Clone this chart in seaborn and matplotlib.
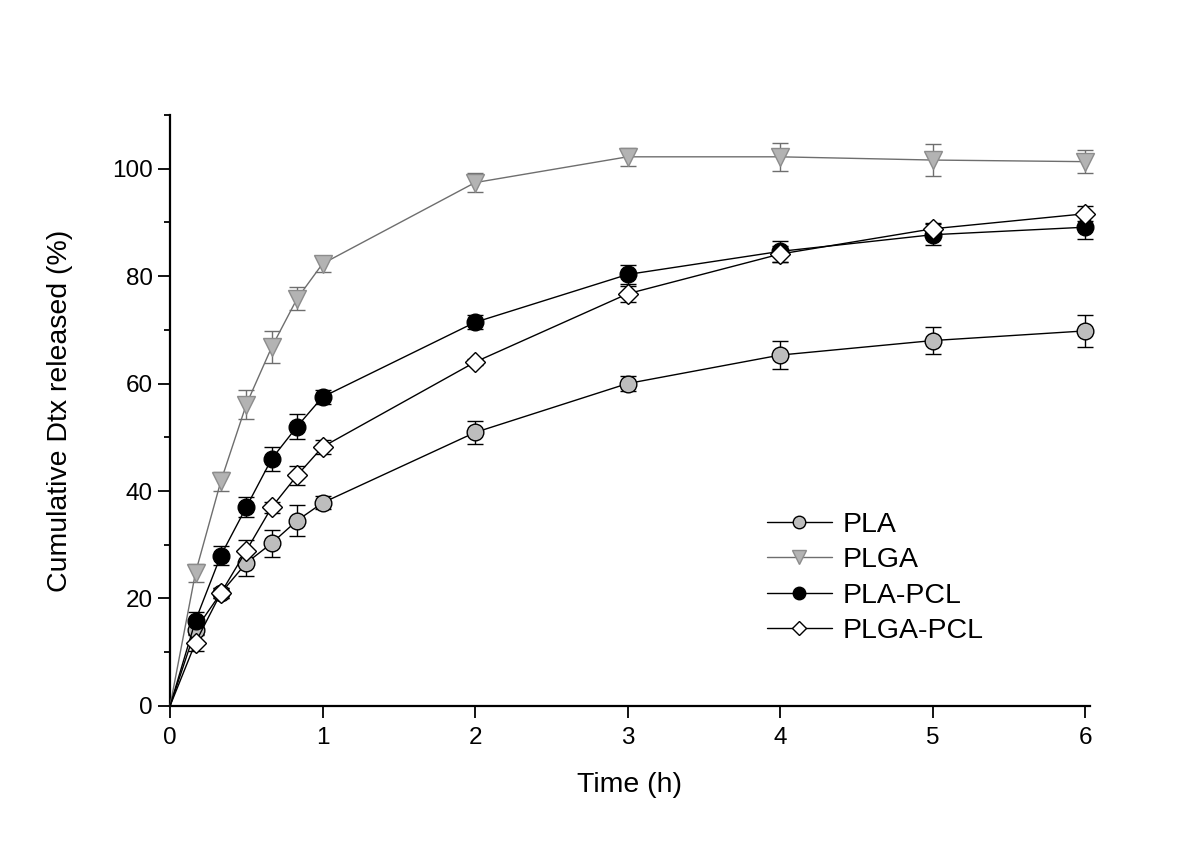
import numpy as np
import pandas as pd
import seaborn as sns
import matplotlib.pyplot as plt
from matplotlib.ticker import MultipleLocator

# Release time points (h)
time_h = [0, 0.167, 0.333, 0.5, 0.667, 0.833, 1, 2, 3, 4, 5, 6]

# Cumulative release (%) and error bars
pla = [0, 14.2, 21.0, 26.6, 30.3, 34.5, 37.8, 50.9, 60.0, 65.3, 68.0, 69.8]
pla_err = [0, 1.0, 1.0, 2.5, 2.5, 2.9, 1.2, 2.1, 1.4, 2.6, 2.5, 3.0]

plga = [0, 24.8, 41.8, 56.1, 66.8, 75.8, 82.3, 97.4, 102.2, 102.2, 101.6, 101.3]
plga_err = [0, 1.7, 1.8, 2.7, 3.0, 2.2, 1.5, 1.8, 1.7, 2.6, 3.0, 2.1]

pla_pcl = [0, 15.9, 28.0, 37.0, 46.0, 52.0, 57.5, 71.4, 80.3, 84.6, 87.7, 89.1]
pla_pcl_err = [0, 1.5, 1.8, 1.9, 2.2, 2.3, 1.3, 1.3, 1.8, 1.9, 2.0, 2.2]

plga_pcl = [0, 11.8, 21.0, 28.9, 37.0, 42.9, 48.2, 64.0, 76.7, 84.1, 88.8, 91.6]
plga_pcl_err = [0, 1.5, 1.0, 1.9, 1.0, 1.7, 1.3, 0.5, 1.5, 1.5, 1.0, 1.4]

series_names = ["PLA", "PLGA", "PLA-PCL", "PLGA-PCL"]

sns.set_theme(style="ticks")
plt.rcParams['font.family'] = ['Liberation Sans', 'DejaVu Sans']
plt.rcParams['text.color'] = 'black'
plt.rcParams['axes.labelcolor'] = 'black'

fig = plt.figure(figsize=(12, 8.48), dpi=100)
ax = fig.add_axes([0.1417, 0.1675, 0.7663, 0.697])

styles = {
    "PLA": dict(marker="o", mfc="#bdbdbd", mec="black", color="black", ms=12),
    "PLGA": dict(marker="v", mfc="#b3b3b3", mec="#8c8c8c", color="#6e6e6e", ms=13),
    "PLA-PCL": dict(marker="o", mfc="black", mec="black", color="black", ms=12),
    "PLGA-PCL": dict(marker="D", mfc="white", mec="black", color="black", ms=10),
}

values = [pla, plga, pla_pcl, plga_pcl]
errors = [pla_err, plga_err, pla_pcl_err, plga_pcl_err]

for name, vals, errs in zip(series_names, values, errors):
    st = styles[name]
    df = pd.DataFrame({"time": time_h, "release": vals, "err": errs})
    # no marker / error bar at the origin point
    ax.errorbar(df["time"][1:], df["release"][1:], yerr=df["err"][1:], fmt="none",
                ecolor=st["color"], elinewidth=1, capsize=6, capthick=1,
                zorder=2, clip_on=False)
    sns.lineplot(data=df, x="time", y="release", ax=ax, label=name,
                 color=st["color"], linewidth=1, marker=st["marker"],
                 markersize=st["ms"], markerfacecolor=st["mfc"],
                 markeredgecolor=st["mec"], markeredgewidth=1,
                 markevery=list(range(1, len(time_h))), zorder=3, clip_on=False)

ax.set_xlim(0, 6.03)
ax.set_ylim(0, 110)
ax.set_xticks(range(0, 7))
ax.set_yticks(range(0, 101, 20))
ax.yaxis.set_minor_locator(MultipleLocator(10))

ax.set_xlabel("Time (h)", fontsize=20.5, labelpad=16)
ax.set_ylabel("Cumulative Dtx released (%)", fontsize=20.5, labelpad=28)

ax.tick_params(axis="both", which="major", direction="out", length=8.5, width=1.3,
               labelsize=17.5, color="black", labelcolor="black")
ax.tick_params(axis="x", pad=7)
ax.tick_params(axis="y", pad=4)
ax.tick_params(axis="y", which="minor", direction="out", length=4.5, width=1.3, color="black")

sns.despine(ax=ax)
for side in ["left", "bottom"]:
    ax.spines[side].set_linewidth(1.6)
    ax.spines[side].set_color("black")

leg = ax.legend(loc="upper left", bbox_to_anchor=(0.621, 0.372), frameon=False,
                fontsize=20.5, handlelength=2.3, labelspacing=0.33, handletextpad=0.35,
                markerscale=0.75)
for txt in leg.get_texts():
    txt.set_color("black")

fig.savefig("out.png", dpi=100, facecolor="white")
